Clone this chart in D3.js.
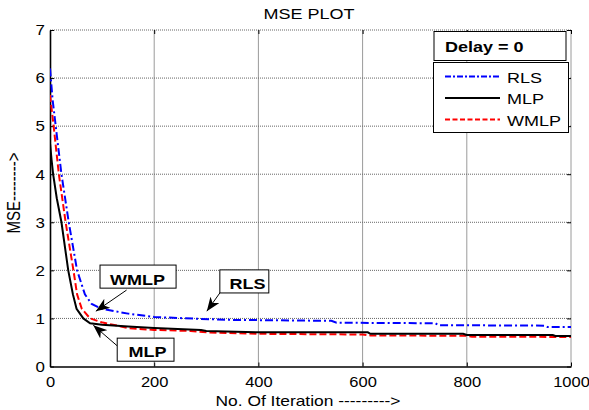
<!DOCTYPE html>
<html>
<head>
<meta charset="utf-8">
<script src="https://cdn.jsdelivr.net/npm/d3@7"></script>
<style>
    body { margin: 0; background: #fff; }
    svg { display: block; font-family: "Liberation Sans", Arial, sans-serif; }
</style>
</head>
<body>
<div id="chart"></div>
<script>
// MSE curves: [iteration, mse]
const rlsData = [[0,6.2],[5,5.55],[11,5.0],[22,4.0],[36,3.0],[52,2.0],[67,1.5],[80,1.3],[99,1.2],[150,1.1],[200,1.03],[290,0.99],[350,0.97],[540,0.95],[550,0.91],[740,0.9],[745,0.86],[950,0.85],[955,0.82],[1000,0.82]];
const mlpData = [[0,4.65],[3,4.3],[6,4.0],[13,3.5],[22,3.0],[35,2.0],[44,1.5],[51,1.2],[64,1.0],[77,0.9],[100,0.87],[150,0.83],[200,0.8],[290,0.76],[300,0.74],[400,0.71],[610,0.71],[615,0.68],[793,0.68],[800,0.655],[965,0.655],[970,0.635],[1000,0.635]];
const wmlpData = [[0,5.65],[7,5.0],[17,4.0],[30,3.0],[45,2.0],[52,1.5],[61,1.2],[77,1.0],[99,0.92],[150,0.8],[200,0.76],[270,0.74],[300,0.71],[400,0.68],[600,0.665],[615,0.645],[800,0.64],[810,0.62],[1000,0.615]];

const seriesNames = ['RLS', 'MLP', 'WMLP'];
const xTicks = [0, 200, 400, 600, 800, 1000];
const yTicks = [0, 1, 2, 3, 4, 5, 6, 7];

// text annotations: box corners, label anchor and arrow (data units)
const notes = [
    {label: 'WMLP', box: [96, 2.11, 242, 1.63], text: [168, 1.70], from: [147, 1.59], to: [88, 1.15]},
    {label: 'RLS',  box: [326, 2.01, 420, 1.53], text: [379, 1.61], from: [328, 1.56], to: [301, 1.15]},
    {label: 'MLP',  box: [129, 0.59, 238, 0.11], text: [187, 0.20], from: [129, 0.43], to: [83, 0.86]}
];

const svgWidth = 589;
const svgHeight = 410;
const margins = {t: 30, r: 18, b: 43.5, l: 50};
const graphWidth = svgWidth - margins.l - margins.r;
const graphHeight = svgHeight - margins.t - margins.b;

const svg = d3.select('#chart').append('svg')
    .attr('width', svgWidth)
    .attr('height', svgHeight);

const g = svg.append('g').attr('transform', `translate(${margins.l},${margins.t})`);

const x = d3.scaleLinear().domain([0, 1000]).range([0, graphWidth]);
const y = d3.scaleLinear().domain([0, 7]).range([graphHeight, 0]);

// the reference is a bit stretched sideways, so widen text a little
function stretch(sel, k) {
    sel.each(function () {
        const t = d3.select(this);
        const tx = +t.attr('x') || 0;
        const ty = +t.attr('y') || 0;
        t.attr('transform', `translate(${tx},${ty}) scale(${k},1)`).attr('x', 0).attr('y', 0);
    });
}

// grid
g.selectAll('line.vgrid')
    .data(xTicks.filter(d => d > 0))
    .join('line')
    .attr('class', 'vgrid')
    .attr('x1', d => x(d)).attr('x2', d => x(d))
    .attr('y1', 0).attr('y2', graphHeight)
    .attr('stroke', '#9a9a9a')
    .attr('stroke-width', 1);

g.selectAll('line.hgrid')
    .data(yTicks.filter(d => d > 0))
    .join('line')
    .attr('class', 'hgrid')
    .attr('x1', 0).attr('x2', graphWidth)
    .attr('y1', d => y(d)).attr('y2', d => y(d))
    .attr('stroke', '#666')
    .attr('stroke-width', 1)
    .attr('stroke-dasharray', '1,1');

// axes (inward ticks)
const fmt = d3.format('d');
const xAxis = g.append('g')
    .attr('transform', `translate(0,${graphHeight})`)
    .call(d3.axisBottom(x).tickValues(xTicks).tickFormat(fmt).tickSizeInner(-4).tickSizeOuter(0).tickPadding(10));
const yAxis = g.append('g')
    .call(d3.axisLeft(y).tickValues(yTicks).tickFormat(fmt).tickSizeInner(-4).tickSizeOuter(0).tickPadding(5));
g.append('g')
    .call(d3.axisTop(x).tickValues(xTicks).tickSizeInner(-4).tickSizeOuter(0).tickFormat(''))
    .select('.domain').remove();
g.append('g')
    .attr('transform', `translate(${graphWidth},0)`)
    .call(d3.axisRight(y).tickValues(yTicks).tickSizeInner(-4).tickSizeOuter(0).tickFormat(''))
    .select('.domain').remove();

[xAxis, yAxis].forEach(a => {
    a.select('.domain').attr('stroke', '#000').attr('stroke-width', 1.6);
    a.selectAll('text')
        .attr('font-family', '"Liberation Sans", Arial, sans-serif')
        .attr('font-size', 15)
        .attr('fill', '#000');
});
g.selectAll('.tick line').attr('stroke', '#000');
stretch(xAxis.selectAll('text'), 1.1);
stretch(yAxis.selectAll('text'), 1.13);

// curves
const line = d3.line()
    .x(d => x(d[0]))
    .y(d => y(d[1]));

svg.append('clipPath').attr('id', 'plotClip')
    .append('rect').attr('width', graphWidth).attr('height', graphHeight);

const curves = g.append('g').attr('clip-path', 'url(#plotClip)');

const styles = {
    RLS:  {color: '#0000ff', dash: '8,3,2,3', data: rlsData},
    MLP:  {color: '#000000', dash: null, data: mlpData},
    WMLP: {color: '#ff0000', dash: '7,3', data: wmlpData}
};

['WMLP', 'MLP', 'RLS'].forEach(k => {
    curves.append('path')
        .datum(styles[k].data)
        .attr('d', line)
        .attr('fill', 'none')
        .attr('stroke', styles[k].color)
        .attr('stroke-width', 2)
        .attr('stroke-dasharray', styles[k].dash);
});

// arrow marker
svg.append('defs').append('marker')
    .attr('id', 'arrowHead')
    .attr('viewBox', '0 0 14 11')
    .attr('refX', 14).attr('refY', 5.5)
    .attr('markerWidth', 14).attr('markerHeight', 11)
    .attr('markerUnits', 'userSpaceOnUse')
    .attr('orient', 'auto')
    .append('path')
    .attr('d', 'M0,0 L14,5.5 L0,11 L4,5.5 Z')
    .attr('fill', '#000');

// annotations
notes.forEach(n => {
    g.append('line')
        .attr('x1', x(n.from[0])).attr('y1', y(n.from[1]))
        .attr('x2', x(n.to[0])).attr('y2', y(n.to[1]))
        .attr('stroke', '#000')
        .attr('stroke-width', 1)
        .attr('marker-end', 'url(#arrowHead)');
    g.append('rect')
        .attr('x', x(n.box[0])).attr('y', y(n.box[1]))
        .attr('width', x(n.box[2]) - x(n.box[0]))
        .attr('height', y(n.box[3]) - y(n.box[1]))
        .attr('fill', '#fff')
        .attr('stroke', '#000')
        .attr('stroke-width', 1);
    const t = g.append('text')
        .attr('x', x(n.text[0])).attr('y', y(n.text[1]))
        .attr('text-anchor', 'middle')
        .style('font-size', '15px')
        .style('font-weight', 'bold')
        .text(n.label);
    stretch(t, 1.2);
});

// legend
const lg = svg.append('g');
lg.append('rect')
    .attr('x', 434).attr('y', 31.5).attr('width', 132).attr('height', 29)
    .attr('fill', '#fff').attr('stroke', '#000').attr('stroke-width', 1);
stretch(lg.append('text')
    .attr('x', 445).attr('y', 52)
    .style('font-size', '15px')
    .style('font-weight', 'bold')
    .text('Delay = 0'), 1.2);

lg.append('rect')
    .attr('x', 433.5).attr('y', 62.5).attr('width', 135).attr('height', 70)
    .attr('fill', '#fff').attr('stroke', '#000').attr('stroke-width', 1);

const legendDash = {RLS: '6,2,2,2', MLP: null, WMLP: '5,2.5'};
seriesNames.forEach((k, i) => {
    const ly = 76.5 + i * 21.5;
    lg.append('line')
        .attr('x1', 445).attr('x2', 500)
        .attr('y1', ly).attr('y2', ly)
        .attr('stroke', styles[k].color)
        .attr('stroke-width', 2)
        .attr('stroke-dasharray', legendDash[k]);
    stretch(lg.append('text')
        .attr('x', 507).attr('y', ly + 6)
        .style('font-size', '15px')
        .text(k), 1.2);
});

// titles
stretch(svg.append('text')
    .attr('x', 309).attr('y', 19)
    .attr('text-anchor', 'middle')
    .style('font-size', '15px')
    .text('MSE PLOT'), 1.2);

stretch(svg.append('text')
    .attr('x', 308).attr('y', 406)
    .attr('text-anchor', 'middle')
    .style('font-size', '15px')
    .text('No. Of Iteration --------->'), 1.16);

svg.append('text')
    .attr('transform', 'translate(20,193) scale(1.2,1) rotate(-90)')
    .attr('text-anchor', 'middle')
    .style('font-size', '15px')
    .text('MSE-------->');
</script>
</body>
</html>
